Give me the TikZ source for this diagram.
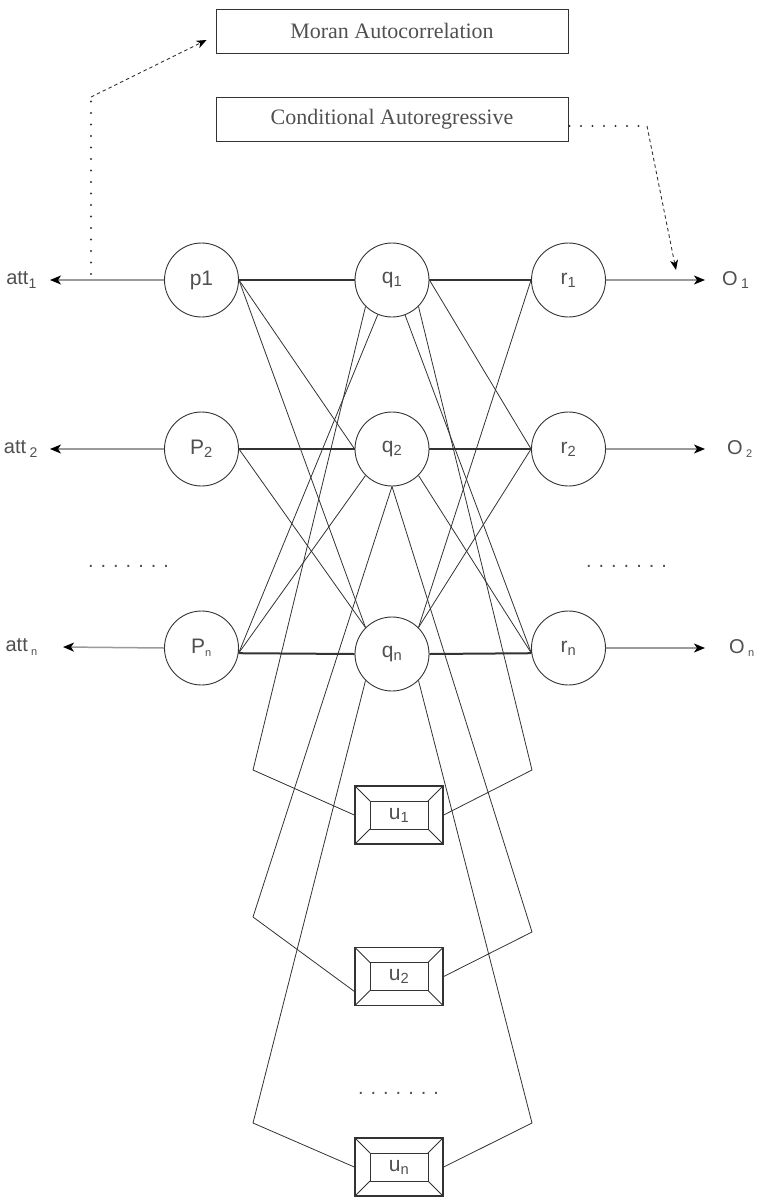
\documentclass[tikz,border=0pt]{standalone}
\usepackage{fontspec}
\setmainfont{Liberation Sans}
\newfontfamily\serifbox{Liberation Serif}
\usetikzlibrary{arrows.meta,calc}
\definecolor{ln}{HTML}{333333}
\definecolor{tx}{HTML}{505050}
\definecolor{lg}{HTML}{9A9A9A}
\newcommand\dotrow{.\hskip7pt.\hskip7pt.\hskip7pt.\hskip7pt.\hskip7pt.\hskip7pt.}
\begin{document}
\begin{tikzpicture}[x=1pt,y=-1pt,
  nd/.style={circle,draw=ln,line width=0.9pt,minimum size=74pt,inner sep=0pt,
    font=\fontsize{21}{24}\selectfont,text=tx},
  tbox/.style={draw=ln,line width=0.9pt,minimum width=352pt,minimum height=44pt,
    inner sep=0pt,font=\serifbox\fontsize{22}{26}\selectfont,text=tx},
  ubox/.style={draw=ln,line width=1.4pt,minimum width=88pt,minimum height=58pt,inner sep=0pt,
    font=\fontsize{21}{24}\selectfont,text=tx,
    path picture={
      \draw[ln,line width=0.9pt]
        ($(path picture bounding box.north west)+(15,15)$) rectangle
        ($(path picture bounding box.south east)+(-15,-15)$);
      \draw[ln,line width=0.9pt]
        (path picture bounding box.north west) -- ++(15,15)
        (path picture bounding box.north east) -- ++(-15,15)
        (path picture bounding box.south west) -- ++(15,-15)
        (path picture bounding box.south east) -- ++(-15,-15);
    }},
  lbl/.style={inner ysep=2pt,font=\fontsize{20}{23}\selectfont,text=tx},
  dotsnode/.style={inner sep=0pt,font=\fontsize{20}{22}\selectfont,text=tx},
  edge/.style={draw=ln,line width=0.8pt},
  thick/.style={draw=ln,line width=2pt},
  outarrow/.style={draw=lg,line width=1.5pt,-{Stealth[length=11pt,width=9pt,inset=3pt,color=black]}},
  dotline/.style={draw=ln,line width=2.2pt,dash pattern=on 0pt off 11.5pt,line cap=round},
  dashline/.style={draw=ln,line width=0.9pt,dash pattern=on 3.5pt off 3pt,
    -{Stealth[length=10pt,width=8pt,inset=3pt,color=black]}}
]
\useasboundingbox (0,0) rectangle (762,1197);

% top boxes
\node[tbox] (moran) at (392,31) {Moran Autocorrelation};
\node[tbox] (cond) at (392,119) {Conditional Autoregressive};

% circles
\node[nd] (p1) at (201.5,280) {p1};
\node[nd] (p2) at (201.5,449) {P\textsubscript{2}};
\node[nd] (pn) at (201.5,648) {P\textsubscript{\fontsize{11}{11}\selectfont n}};
\node[nd] (q1) at (392,280) {q\textsubscript{1}};
\node[nd] (q2) at (392,449) {q\textsubscript{2}};
\node[nd] (qn) at (392,654) {q\textsubscript{n}};
\node[nd] (r1) at (568.5,280) {r\textsubscript{1}};
\node[nd] (r2) at (568.5,449) {r\textsubscript{2}};
\node[nd] (rn) at (568.5,648) {r\textsubscript{n}};

% u boxes
\node[ubox] (u1) at (399,815) {u\textsubscript{1}};
\node[ubox] (u2) at (399,976.5) {u\textsubscript{2}};
\node[ubox] (un) at (399,1167) {u\textsubscript{n}};

% labels
\node[lbl,anchor=east,inner xsep=13pt] (att1) at (50,280) {att\textsubscript{1}};
\node[lbl,anchor=east,inner xsep=12pt] (att2) at (50,449) {att\,\textsubscript{2}};
\node[lbl,anchor=east,inner xsep=25pt] (attn) at (63,647) {att\,\textsubscript{\fontsize{11}{11}\selectfont n}};
\node[lbl,anchor=west,inner xsep=17pt] (o1) at (705,280) {O\,\textsubscript{1}};
\node[lbl,anchor=west,inner xsep=22pt] (o2) at (705,449) {O\,\textsubscript{\fontsize{11}{11}\selectfont 2}};
\node[lbl,anchor=west,inner xsep=24pt] (on) at (705,648) {O\,\textsubscript{\fontsize{11}{11}\selectfont n}};

% dots
\node[dotsnode] (dl) at (128.5,566) {\dotrow};
\node[dotsnode] (dr) at (626.5,566) {\dotrow};
\node[dotsnode] (db) at (398.5,1093) {\dotrow};

% bend points
\coordinate (b1l) at (253,770);
\coordinate (b1r) at (532,770);
\coordinate (b2l) at (253,917);
\coordinate (b2r) at (532,932);
\coordinate (bnl) at (253,1123);
\coordinate (bnr) at (532,1123);

% output arrows
\draw[outarrow] (p1.west) -- (att1.east);
\draw[outarrow] (p2.west) -- (att2.east);
\draw[outarrow] (pn.west) -- (attn.east);
\draw[outarrow] (r1.east) -- (o1.west);
\draw[outarrow] (r2.east) -- (o2.west);
\draw[outarrow] (rn.east) -- (on.west);

% thick horizontal links
\draw[thick] (p1.east) -- (q1.west);
\draw[thick] (p2.east) -- (q2.west);
\draw[thick] (pn.-8) -- (qn.west);
\draw[thick] (q1.east) -- (r1.west);
\draw[thick] (q2.east) -- (r2.west);
\draw[thick] (qn.east) -- (rn.188);

% cross links p -> q
\draw[edge] (p1.east) -- (q2.west);
\draw[edge] (p1.east) -- (qn.135);
\draw[edge] (p2.east) -- (qn.135);
\draw[edge] (pn.-8) -- (q1);
\draw[edge] (pn.-8) -- (q2.225);

% cross links q -> r
\draw[edge] (q1.east) -- (r2.west);
\draw[edge] (q1) -- (rn.188);
\draw[edge] (q2.315) -- (rn.188);
\draw[edge] (qn.45) -- (r1.west);
\draw[edge] (qn.45) -- (r2.west);

% q -> u
\draw[edge] (q1.225) -- (b1l) -- (u1.west);
\draw[edge] (q1.315) -- (b1r) -- (u1.east);
\draw[edge] (q2.south) -- (b2l) -- ($(u2.west)!0.5!(u2.south west)$);
\draw[edge] (q2.south) -- (b2r) -- (u2.east);
\draw[edge] (qn.225) -- (bnl) -- (un.west);
\draw[edge] (qn.315) -- (bnr) -- (un.east);

% model annotations
\coordinate (m0) at (91,274);
\coordinate (m1) at (91,97);
\draw[dotline] (m0) -- (m1);
\draw[dashline] (m1) -- ($(moran.west)+(-9,9)$);
\coordinate (c1) at (647,126);
\coordinate (c2) at (676,270);
\draw[dotline] ($(cond.east)+(1,7)$) -- (c1);
\draw[dashline] (c1) -- (c2);
\end{tikzpicture}
\end{document}
